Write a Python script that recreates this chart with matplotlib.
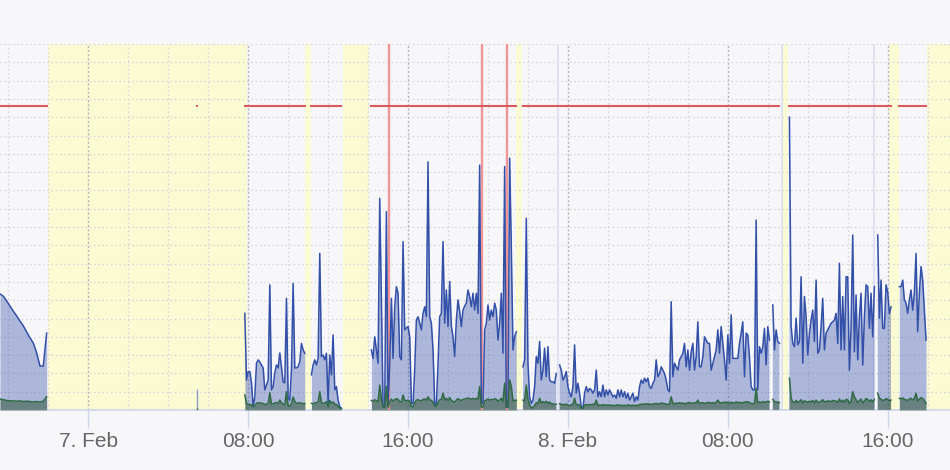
import numpy as np
import pandas as pd
import matplotlib
matplotlib.use('Agg')
import matplotlib.pyplot as plt
import matplotlib.dates as mdates
from matplotlib.ticker import FuncFormatter

plt.rcParams['font.family'] = ['Liberation Sans', 'DejaVu Sans']

nan = np.nan

# Tramos de medición: inicio, paso (min), serie principal (azul) y secundaria (verde)
inicio_a = '2024-02-06 19:35'
paso_a = 10
azul_a = [31.7, 31.1, 29.8, 28.4, 27.0, 25.7, 24.3, 23.0, 21.3, 19.7, 18.3, 15.6, 12.0, 12.0, 21.0]
verde_a = [3.0, 2.8, 2.6, 2.5, 2.5, 2.4, 2.5, 2.3, 2.4, 2.3, 2.2, 2.3, 2.2, 2.4, 3.6]

# punto suelto en mitad de la franja amarilla
inicio_p = '2024-02-07 05:25'
azul_p = [5.7]
verde_p = [0.5]

inicio_b = '2024-02-07 07:50'
azul_b = [26.4, 8.2, 10.5, 10.5, 7.4, 0.9, 3.6, 12.8, 13.7, 13.1,
          12.3, 11.5, 5.5, 6.8, 8.2, 34.2, 5.5, 6.4, 10.1, 12.3,
          11.5, 15.6, 11.8, 7.7, 7.4, 30.5, 3.3, 2.7, 10.9, 34.6,
          11.5, 11.5, 11.8, 13.2, 18.2, 16.4, 15.5]
verde_b = [4.1, 1.8, 1.6, 1.5, 1.4, 1.0, 1.2, 1.8, 2.0, 1.9,
           1.9, 1.7, 1.5, 1.6, 1.8, 4.7, 1.6, 1.7, 1.9, 2.0,
           1.8, 2.7, 2.0, 1.6, 1.5, 5.0, 1.2, 1.0, 1.8, 3.5,
           2.3, 1.8, 1.9, 2.0, 1.7, 1.8, 1.8]

inicio_c = '2024-02-07 11:10'
azul_c = [9.6, 12.3, 13.7, 12.3, 14.1, 42.8, 14.6, 15.0, 13.7, 15.5,
          1.8, 15.0, 9.6, 20.5, 5.5, 6.4, 2.7, 0.9, 0.5]
verde_c = [1.8, 1.7, 2.0, 1.9, 2.2, 5.0, 2.0, 1.8, 1.9, 2.3,
           0.9, 2.6, 1.8, 2.2, 1.6, 1.5, 1.0, 0.6, 0.4]

inicio_d = '2024-02-07 14:10'
azul_d = [16.4, 14.1, 20.0, 16.4, 12.8, 57.8, 30.1, 0.9, 0.9, 54.2,
          0.9, 12.8, 30.5, 14.1, 28.2, 33.7, 31.9, 14.6, 13.7, 46.0,
          21.9, 22.4, 22.8, 20.0, 1.8, 1.8, 10.9, 24.6, 25.5, 23.7,
          21.9, 26.4, 28.2, 25.5, 67.8, 25.5, 23.7, 16.4, 1.8, 1.4,
          12.8, 25.5, 26.4, 46.0, 23.7, 32.8, 22.8, 35.1, 22.8, 20.0,
          14.6, 24.6, 30.1, 26.9, 22.8, 27.3, 28.4, 29.2, 32.8, 31.0,
          28.2, 31.9, 27.3, 31.9, 26.4, 66.9, 1.8, 1.8, 21.9, 23.7,
          28.7, 24.6, 27.3, 25.5, 29.2, 27.3, 19.1, 23.7, 31.9, 15.5,
          66.5, 0.9, 0.9, 68.8, 44.6, 16.4, 20.0, 21.4]
verde_d = [2.6, 2.4, 2.8, 2.5, 2.3, 6.8, 3.0, 0.8, 0.7, 6.4,
           0.8, 2.2, 3.0, 2.4, 2.8, 3.1, 2.9, 2.3, 2.2, 4.1,
           2.6, 2.5, 2.7, 2.4, 1.0, 0.9, 2.0, 2.7, 2.8, 2.6,
           2.5, 2.9, 3.0, 2.7, 3.6, 2.8, 2.6, 2.2, 1.1, 1.0,
           2.1, 2.8, 2.9, 4.6, 2.7, 3.2, 2.6, 3.4, 2.6, 2.4,
           2.1, 2.7, 3.1, 2.8, 2.6, 2.9, 3.0, 3.1, 3.3, 3.1,
           2.9, 3.2, 2.8, 3.2, 3.0, 6.4, 0.8, 0.8, 2.5, 2.7,
           3.0, 2.7, 2.9, 2.8, 3.1, 2.9, 2.4, 2.7, 3.2, 2.2,
           7.3, 0.7, 0.8, 8.2, 6.4, 2.5, 2.6, 2.7]

inicio_e = '2024-02-07 21:45'
azul_e = [11.8, 13.7, 52.4, 12.8, 3.6, 1.8, 2.7, 6.4, 14.6, 12.8,
          18.7, 8.2, 10.9, 16.9, 9.1, 17.3, 8.2, 7.7, 7.7, 7.3,
          10.0, nan, 12.3, 10.9, 8.2, 9.1, 10.5, 6.4, 4.6, 3.6,
          6.4, 17.8, 4.6, 7.3, 4.6, 0.9, 0.5, 4.6, 6.4, 5.0,
          5.9, 5.5, 4.6, 5.5, 10.9, 3.6, 5.0, 3.6, 6.8, 3.6,
          5.5, 4.1, 5.5, 4.6, 3.6, 4.1, 3.2, 5.5, 3.6, 5.5,
          3.6, 5.0, 3.2, 4.6, 2.7, 3.6, 4.6, 2.3, 3.6, 2.7,
          6.4, 8.2, 7.3, 8.7, 7.7, 8.7, 6.4, 5.9, 7.3, 8.2,
          13.7, 9.1, 10.0, 11.8, 10.9, 10.0, 8.2, 5.5, 5.0, 29.6,
          9.1, 12.8, 11.8, 10.9, 13.7, 14.6, 15.5, 18.2, 11.8, 16.4,
          10.9, 15.9, 18.2, 10.9, 14.6, 24.1, 11.8, 11.8, 14.6, 20.0,
          19.1, 18.2, 18.2, 10.9, 12.8, 14.6, 16.4, 21.9, 15.5, 22.8,
          18.2, 13.7, 8.2, 20.5, 12.8, 26.0, 14.1, 14.1, 14.1, 14.1,
          18.2, 21.0, 24.1, 9.1, 21.0, 20.5, 14.6, 6.4, 5.5, 5.5,
          51.9, 5.5, 17.3, 15.5, 17.3, 22.3, 12.3, 22.8, 19.1, nan,
          28.7, 16.4, 21.9, 18.7, 18.2]
verde_e = [2.7, 2.5, 6.8, 3.0, 1.4, 0.5, 0.8, 1.2, 2.0, 1.8,
           3.2, 1.9, 2.3, 2.0, 2.4, 1.8, 2.2, 1.6, 1.7, 1.5,
           1.6, nan, 1.7, 1.6, 1.4, 1.5, 1.6, 1.3, 1.2, 1.4,
           1.6, 3.2, 1.4, 1.5, 1.3, 0.5, 0.5, 1.3, 1.5, 1.4,
           1.5, 1.4, 1.6, 1.5, 2.7, 1.2, 1.4, 1.2, 1.5, 1.3,
           1.4, 1.3, 1.4, 1.2, 1.3, 1.2, 1.3, 1.4, 1.2, 1.3,
           1.2, 1.3, 1.2, 1.4, 1.3, 1.2, 1.3, 1.2, 1.3, 1.2,
           1.5, 1.6, 1.5, 1.7, 1.6, 1.7, 1.6, 1.5, 1.6, 1.7,
           1.8, 1.6, 1.7, 1.9, 1.8, 1.7, 1.6, 1.5, 1.6, 3.6,
           1.8, 1.7, 1.9, 1.8, 2.0, 1.8, 1.9, 1.7, 1.8, 1.9,
           2.0, 1.9, 1.8, 2.0, 1.9, 2.7, 1.8, 1.9, 2.0, 1.8,
           1.9, 2.1, 2.0, 1.9, 2.0, 1.8, 2.1, 2.7, 2.0, 1.9,
           2.1, 2.0, 2.2, 1.9, 2.0, 2.1, 1.9, 2.0, 2.2, 2.0,
           2.1, 1.9, 2.0, 2.2, 2.1, 2.3, 2.0, 1.8, 1.7, 1.8,
           5.9, 1.9, 2.2, 2.0, 2.3, 2.1, 2.2, 2.4, 2.2, nan,
           2.9, 2.3, 2.1, 2.2, 2.0]

inicio_f = '2024-02-08 11:05'
azul_f = [80.0, 22.8, 18.2, 17.3, 25.1, 17.8, 18.7, 36.4, 12.8, 31.0,
          25.5, 15.0, 21.0, 24.6, 27.3, 18.7, 35.5, 15.5, 16.4, 22.8,
          30.5, 16.4, 21.0, 21.9, 22.8, 23.7, 24.1, 24.6, 26.4, 18.2,
          40.1, 16.4, 31.0, 16.4, 36.4, 36.4, 10.9, 22.8, 47.8, 15.9,
          31.4, 13.7, 25.5, 31.9, 12.3, 25.5, 34.2, 33.7, 22.3, 31.9,
          20.0, 33.7, nan, 47.8, 25.1, 35.5, 22.3, 22.3, 34.2, 32.3,
          26.4, 28.2]
verde_f = [8.7, 3.2, 2.2, 2.0, 2.6, 2.1, 2.3, 2.8, 1.9, 2.5,
           2.3, 2.1, 2.4, 2.2, 2.6, 2.0, 2.7, 2.1, 2.2, 2.4,
           2.8, 2.2, 2.3, 2.5, 2.4, 2.3, 2.6, 2.5, 2.4, 2.1,
           3.0, 2.2, 2.7, 2.1, 2.9, 2.8, 1.8, 2.4, 5.0, 3.6,
           2.8, 2.0, 2.6, 3.0, 1.9, 2.5, 3.1, 2.9, 2.3, 2.8,
           2.2, 2.9, nan, 4.6, 3.2, 3.0, 2.6, 2.7, 3.1, 2.9,
           2.6, 2.7]

inicio_g = '2024-02-08 16:35'
azul_g = [33.7, 33.7, 35.5, 30.1, 29.2, 26.4, 30.1, 32.8, 27.3, 31.9,
          42.8, 21.4, 31.9, 39.2, 35.5, 27.3, 19.1]
verde_g = [3.2, 3.0, 3.3, 2.9, 2.8, 2.6, 3.0, 3.2, 2.7, 3.1,
           4.6, 2.4, 3.0, 3.4, 3.1, 2.6, 1.8]

# Umbral (línea roja horizontal)
umbral = 83

# Franjas amarillas (periodos sin medida)
franjas = [('2024-02-06 22:00', '2024-02-07 07:56'),
           ('2024-02-07 10:50', '2024-02-07 11:08'),
           ('2024-02-07 12:45', '2024-02-07 14:03'),
           ('2024-02-07 21:23', '2024-02-07 21:41'),
           ('2024-02-08 10:44', '2024-02-08 11:02'),
           ('2024-02-08 16:04', '2024-02-08 16:35'),
           ('2024-02-08 17:57', '2024-02-08 20:00')]

# Eventos marcados
eventos_rojos = ['2024-02-07 15:02', '2024-02-07 19:41', '2024-02-07 20:56']
eventos_lila = ['2024-02-07 23:29', '2024-02-08 10:44', '2024-02-08 15:20']

vista = ('2024-02-06 19:35', '2024-02-08 19:07')

tramos = [(inicio_a, paso_a, azul_a, verde_a),
          (inicio_p, 5, azul_p, verde_p),
          (inicio_b, 5, azul_b, verde_b),
          (inicio_c, 5, azul_c, verde_c),
          (inicio_d, 5, azul_d, verde_d),
          (inicio_e, 5, azul_e, verde_e),
          (inicio_f, 5, azul_f, verde_f),
          (inicio_g, 5, azul_g, verde_g)]

fondo = '#f7f7fa'
c_azul = '#3350a8'
c_verde = '#2f6a44'
c_rojo = '#d85a5a'


def etiqueta(x, pos):
    d = mdates.num2date(x)
    if d.hour == 0 and d.minute == 0:
        return f'{d.day}. {d.strftime("%b")}'
    return d.strftime('%H:%M')


fig = plt.figure(figsize=(9.5, 4.7), dpi=100, facecolor=fondo)
ax = fig.add_axes([0, 60 / 470, 1, 366 / 470])
ax.set_facecolor(fondo)

for a, b in franjas:
    ax.axvspan(pd.Timestamp(a), pd.Timestamp(b), color='#fafad3', lw=0, zorder=0)

for e in eventos_lila:
    ax.axvline(pd.Timestamp(e), color='#dedff2', lw=1.3, zorder=1)

for inicio, paso, azul, verde in tramos:
    t = pd.date_range(inicio, periods=len(azul), freq=f'{paso}min')
    azul = np.array(azul, dtype=float)
    verde = np.array(verde, dtype=float)
    if len(azul) == 1:
        ax.vlines(t, 0, azul, color='#8f9cc8', lw=1.0, zorder=3)
        ax.vlines(t, 0, verde, color=c_verde, lw=1.0, zorder=3)
        ax.plot(t, [umbral], ls='none', marker='s', ms=1.5, color=c_rojo, mew=0, zorder=5)
        continue
    ax.fill_between(t, azul, 0, color=c_azul, alpha=0.38, lw=0, zorder=2)
    ax.plot(t, azul, color=c_azul, lw=1.1, zorder=4)
    ax.fill_between(t, verde, 0, color='#3b5e45', alpha=0.6, lw=0, zorder=3)
    ax.plot(t, verde, color=c_verde, lw=1.1, zorder=4.5)
    ax.plot(t, np.full(len(t), umbral), color=c_rojo, lw=1.5, zorder=5)

for e in eventos_rojos:
    ax.axvline(pd.Timestamp(e), color='#f08c8c', lw=1.7, alpha=0.9, zorder=3.5)

ax.set_xlim(pd.Timestamp(vista[0]), pd.Timestamp(vista[1]))
ax.set_ylim(0, 100)
ax.set_yticks(np.arange(0, 101, 5))
ax.tick_params(axis='y', left=False, labelleft=False)

ax.xaxis.set_major_locator(mdates.HourLocator(byhour=[0, 8, 16]))
ax.xaxis.set_major_formatter(FuncFormatter(etiqueta))
ax.xaxis.set_minor_locator(mdates.HourLocator(byhour=range(0, 24, 2)))
ax.tick_params(axis='x', which='minor', length=0)
ax.tick_params(axis='x', which='major', length=13, width=1, color='#ccd6eb',
               pad=2.5, labelsize=15, labelcolor='#666666')

ax.set_axisbelow(True)
ax.grid(axis='y', color='#d4d4dc', lw=0.9, ls=(0, (1.2, 2.2)))
ax.grid(axis='x', which='minor', color='#d4d4dc', lw=0.9, ls=(0, (1.2, 2.2)))
ax.grid(axis='x', which='major', color='#b4b4bc', lw=1.0, ls=(0, (1.5, 1.5)))

for lado in ['top', 'left', 'right']:
    ax.spines[lado].set_visible(False)
ax.spines['bottom'].set_color('#ccd6eb')
ax.spines['bottom'].set_linewidth(1.2)

fig.savefig('out.png', dpi=100, facecolor=fondo)
